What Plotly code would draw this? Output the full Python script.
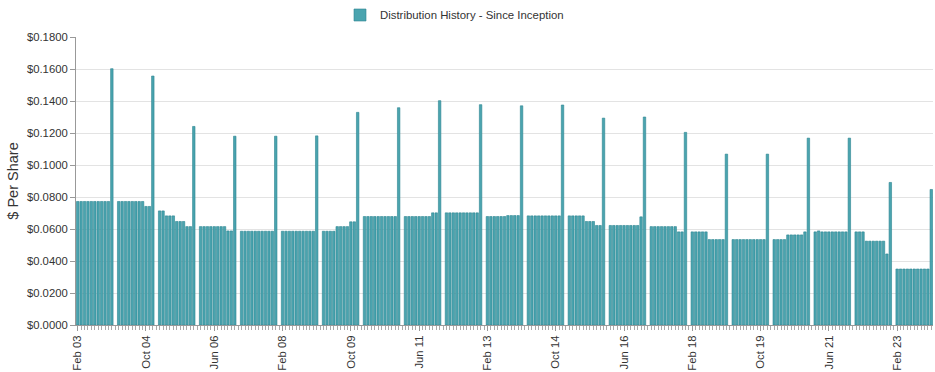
import plotly.graph_objects as go

# Monthly distributions, Feb 2003 .. Dec 2023 (January = no distribution)
y2003 = [0.0772, 0.0772, 0.0772, 0.0772, 0.0772, 0.0772, 0.0772, 0.0772, 0.0772, 0.0772, 0.1602]  # Feb-Dec
y2004 = [None, 0.0772, 0.0772, 0.0772, 0.0772, 0.0772, 0.0772, 0.0772, 0.0772, 0.0741, 0.0741, 0.1556]
y2005 = [None, 0.0713, 0.0713, 0.0682, 0.0682, 0.0682, 0.0647, 0.0647, 0.0647, 0.0615, 0.0615, 0.1241]
y2006 = [None, 0.0615, 0.0615, 0.0615, 0.0615, 0.0615, 0.0615, 0.0615, 0.0615, 0.0588, 0.0588, 0.1180]
y2007 = [None, 0.0586, 0.0586, 0.0586, 0.0586, 0.0586, 0.0586, 0.0586, 0.0586, 0.0586, 0.0586, 0.1180]
y2008 = [None, 0.0586, 0.0586, 0.0586, 0.0586, 0.0586, 0.0586, 0.0586, 0.0586, 0.0586, 0.0586, 0.1182]
y2009 = [None, 0.0586, 0.0586, 0.0586, 0.0586, 0.0615, 0.0615, 0.0615, 0.0615, 0.0645, 0.0645, 0.1329]
y2010 = [None, 0.0678, 0.0678, 0.0678, 0.0678, 0.0678, 0.0678, 0.0678, 0.0678, 0.0678, 0.0678, 0.1358]
y2011 = [None, 0.0678, 0.0678, 0.0678, 0.0678, 0.0678, 0.0678, 0.0678, 0.0678, 0.0701, 0.0701, 0.1402]
y2012 = [None, 0.0701, 0.0701, 0.0701, 0.0701, 0.0701, 0.0701, 0.0701, 0.0701, 0.0701, 0.0701, 0.1377]
y2013 = [None, 0.0678, 0.0678, 0.0678, 0.0678, 0.0678, 0.0678, 0.0684, 0.0684, 0.0684, 0.0684, 0.1370]
y2014 = [None, 0.0682, 0.0682, 0.0682, 0.0682, 0.0682, 0.0682, 0.0682, 0.0682, 0.0682, 0.0682, 0.1375]
y2015 = [None, 0.0682, 0.0682, 0.0682, 0.0682, 0.0682, 0.0647, 0.0647, 0.0647, 0.0622, 0.0622, 0.1293]
y2016 = [None, 0.0622, 0.0622, 0.0622, 0.0622, 0.0622, 0.0622, 0.0622, 0.0622, 0.0622, 0.0676, 0.1300]
y2017 = [None, 0.0615, 0.0615, 0.0615, 0.0615, 0.0615, 0.0615, 0.0615, 0.0615, 0.0582, 0.0582, 0.1204]
y2018 = [None, 0.0582, 0.0582, 0.0582, 0.0582, 0.0582, 0.0534, 0.0534, 0.0534, 0.0534, 0.0534, 0.1068]
y2019 = [None, 0.0534, 0.0534, 0.0534, 0.0534, 0.0534, 0.0534, 0.0534, 0.0534, 0.0534, 0.0534, 0.1068]
y2020 = [None, 0.0534, 0.0534, 0.0534, 0.0534, 0.0563, 0.0563, 0.0563, 0.0563, 0.0563, 0.0582, 0.1168]
y2021 = [None, 0.0582, 0.0588, 0.0582, 0.0582, 0.0582, 0.0582, 0.0582, 0.0582, 0.0582, 0.0582, 0.1168]
y2022 = [None, 0.0582, 0.0582, 0.0582, 0.0524, 0.0524, 0.0524, 0.0524, 0.0524, 0.0524, 0.0444, 0.0891]
y2023 = [None, 0.0350, 0.0350, 0.0350, 0.0350, 0.0350, 0.0350, 0.0350, 0.0350, 0.0350, 0.0350, 0.0847]

month_names = ["Jan", "Feb", "Mar", "Apr", "May", "Jun", "Jul", "Aug", "Sep", "Oct", "Nov", "Dec"]
tick_labels = ["Feb 03", "Oct 04", "Jun 06", "Feb 08", "Oct 09", "Jun 11", "Feb 13",
               "Oct 14", "Jun 16", "Feb 18", "Oct 19", "Jun 21", "Feb 23"]

yearly = [y2003, y2004, y2005, y2006, y2007, y2008, y2009, y2010, y2011, y2012, y2013,
          y2014, y2015, y2016, y2017, y2018, y2019, y2020, y2021, y2022, y2023]

months, values = [], []
for k, vals in enumerate(yearly):
    yr = 2003 + k
    start = 12 - len(vals)
    for j, v in enumerate(vals):
        months.append(f"{month_names[start + j]} {yr % 100:02d}")
        values.append(v)

xpos = list(range(len(months)))
tickvals = [months.index(t) for t in tick_labels]

fig = go.Figure()
fig.add_trace(go.Bar(
    x=xpos, y=values,
    name="Distribution History - Since Inception",
    marker=dict(color="#4AA4AF", line=dict(color="#2C8491", width=0.6)),
    hovertext=months,
))

font = "Liberation Sans, Arial, sans-serif"
W, H = 935, 372
fig.update_layout(
    width=W, height=H,
    margin=dict(l=76, r=2, t=37, b=47, autoexpand=False),
    paper_bgcolor="white", plot_bgcolor="white",
    font=dict(family=font, size=11.3, color="#333333"),
    bargap=0.28,
    showlegend=True,
    legend=dict(orientation="h", xref="container", x=340 / W, xanchor="left",
                yref="container", y=1 - 15 / H, yanchor="middle",
                font=dict(size=11.4, color="#333333"), itemwidth=30),
    xaxis=dict(
        range=[-0.5, len(months) - 0.5],
        tickmode="array", tickvals=tickvals, ticktext=tick_labels,
        tickangle=-90, ticks="outside", ticklen=5, tickcolor="#999999",
        tickfont=dict(size=11.3, color="#333333"),
        showgrid=False, showline=True, linecolor="#999999", linewidth=1,
        zeroline=False, automargin=False,
        minor=dict(tickmode="linear", tick0=0, dtick=1, ticks="outside",
                   ticklen=4, tickcolor="#aaaaaa", showgrid=False),
    ),
    yaxis=dict(
        range=[0, 0.18], dtick=0.02, tick0=0,
        tickformat="$.4f",
        ticks="outside", ticklen=5, tickcolor="#999999",
        tickfont=dict(size=11.3, color="#333333"),
        showgrid=True, gridcolor="#e3e3e3", gridwidth=1,
        showline=True, linecolor="#999999", linewidth=1,
        zeroline=False, automargin=False,
        title=dict(text="$ Per Share", font=dict(size=14.5, color="#333333"), standoff=4),
    ),
)

# remove the browser's default 8px body margin so the 935x372 figure fills the window exactly
fig.write_html("out.html",
               config={"displayModeBar": False},
               post_script="document.body.style.margin='0';document.body.style.overflow='hidden';")
